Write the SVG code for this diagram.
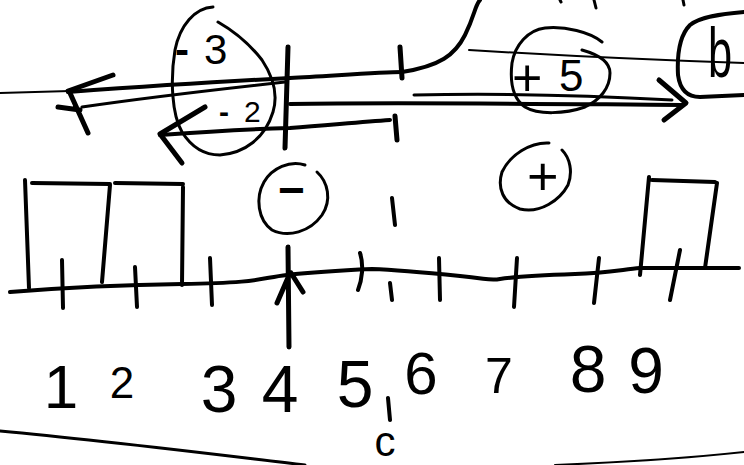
<svg xmlns="http://www.w3.org/2000/svg" width="744" height="465" viewBox="0 0 744 465">
<style>
.s{fill:none;stroke:#000;stroke-linecap:round;stroke-linejoin:round}
.w2{stroke-width:2}.w3{stroke-width:3}.w4{stroke-width:4}.w5{stroke-width:5}
.t{font-family:"Liberation Sans","DejaVu Sans",sans-serif;fill:#000}
</style>
<rect width="744" height="465" fill="#fff"/>
<g id="connectors">
  <path class="s w2" d="M0,93 L70,91"/>
  <path class="s w4" d="M68,92 C150,86 250,80 290,78 S380,72 402,72"/>
  <path class="s w3" d="M82,107 C150,97 230,88 285,82"/>
  <path class="s w5" d="M113,75 L68,91 M70,93 L88,133 M58,107 L80,110"/>
  <path class="s w4" d="M402,72 C440,66 455,55 465,35 S475,5 480,0"/>
  <path class="s w5" d="M400,47 L402,78"/>
  <path class="s w4" d="M290,104 C400,102 550,104 682,105"/>
  <path class="s w3" d="M414,95 C500,93 600,96 672,100"/>
  <path class="s w5" d="M659,80 L686,103 L664,120"/>
  <path class="s w4" d="M160,135 C200,132 250,129 290,128 C330,125 360,122 390,120"/>
  <path class="s w5" d="M205,107 L160,134 L182,163"/>
  <path class="s w5" d="M395,116 L397,140"/>
  <path class="s w2" d="M469,50 C550,55 650,60 744,63"/>
  <path class="s w5" d="M288,247 L289,347 M290,273 L277,303 M291,273 L303,292"/>
</g>
<g id="ellipse-neg">
  <path class="s w3" d="M213,7 C195,8 180,25 175,50 C170,80 172,115 182,132 C192,148 205,155 220,155 C245,153 265,138 273,112 C279,92 272,75 262,60 C248,42 232,30 218,22"/>
  <text class="t" font-size="42" font-weight="bold"><tspan x="175" y="64">-</tspan><tspan x="204" y="64" font-weight="normal">3</tspan></text>
  <text class="t" font-size="30" font-weight="bold"><tspan x="219" y="122">-</tspan><tspan x="244" y="122" font-weight="normal">2</tspan></text>
</g>
<g id="bar">
  <path class="s w5" d="M288,47 L285,148"/>
</g>
<g id="plus5">
  <path class="s w3" d="M602,42 C590,32 565,26 545,28 C528,30 515,45 512,63 C510,80 512,98 525,107 C538,115 565,114 585,107 C600,100 610,88 610,73 C610,63 600,55 582,50"/>
  <text class="t" font-size="52"><tspan x="512" y="96">+</tspan><tspan x="559" y="91" font-size="44">5</tspan></text>
</g>
<g id="six">
  <path class="s w4" d="M744,12 C720,14 700,17 690,25 C680,35 677,55 678,75 C680,90 688,97 700,97 L744,95"/>
  <text class="t" font-size="70" transform="translate(708,77) scale(0.62,1)">b</text>
</g>
<g id="minus-circle">
  <path class="s w3" d="M305,165 C290,160 272,168 264,182 C255,198 258,220 272,230 C288,238 310,232 322,215 C332,200 328,182 317,172"/>
  <text class="t" font-size="46" font-weight="bold" x="278" y="206">−</text>
</g>
<g id="plus-circle">
  <path class="s w3" d="M549,143 C530,142 510,155 502,172 C497,188 503,203 520,209 C540,214 560,200 568,185 C573,172 570,158 562,150"/>
  <text class="t" font-size="54" x="527" y="195">+</text>
</g>
<g id="boxes">
  <path class="s w4" d="M25,180 L29,288 M32,183 L110,184 M110,185 L102,282 M115,183 L183,184 M183,187 L182,285"/>
  <path class="s w4" d="M649,177 L640,275 M652,180 L715,182 M717,183 L705,268"/>
</g>
<g id="axis">
  <path class="s w4" d="M10,292 C60,288 103,285 182,284 S260,278 287,275 S350,270 372,269 C400,270 430,273 460,276 S490,281 500,279 C520,276 545,275 575,274 S620,270 640,268 L739,268"/>
  <path class="s w4" d="M62,260 L63,308 M135,267 L137,307 M210,258 L212,305 M360,253 C364,265 362,280 358,290 M390,283 L392,300 M439,258 L440,300 M517,258 L514,307 M599,258 L594,303 M680,250 L670,300"/>
  <path class="s w4" d="M392,198 L395,225 M388,398 L390,420"/>
</g>
<g id="labels" class="t" text-anchor="middle">
  <text font-size="62" x="61" y="408">1</text>
  <text font-size="44" x="122" y="398">2</text>
  <text font-size="66" x="219" y="412">3</text>
  <text font-size="66" x="280" y="412">4</text>
  <text font-size="66" x="355" y="407">5</text>
  <text font-size="60" x="421" y="394">6</text>
  <text font-size="50" x="499" y="393">7</text>
  <text font-size="66" x="588" y="392">8</text>
  <text font-size="64" x="646" y="393">9</text>
  <text font-size="42" x="385" y="456">c</text>
</g>
<g id="edges">
  <path class="s w3" d="M0,431 C100,440 220,455 305,465"/>
  <path class="s w2" d="M555,465 C630,462 690,458 744,452"/>
  <path class="s w3" d="M594,0 L596,8 M683,0 L684,5 M560,0 L561,2"/>
</g>
</svg>
